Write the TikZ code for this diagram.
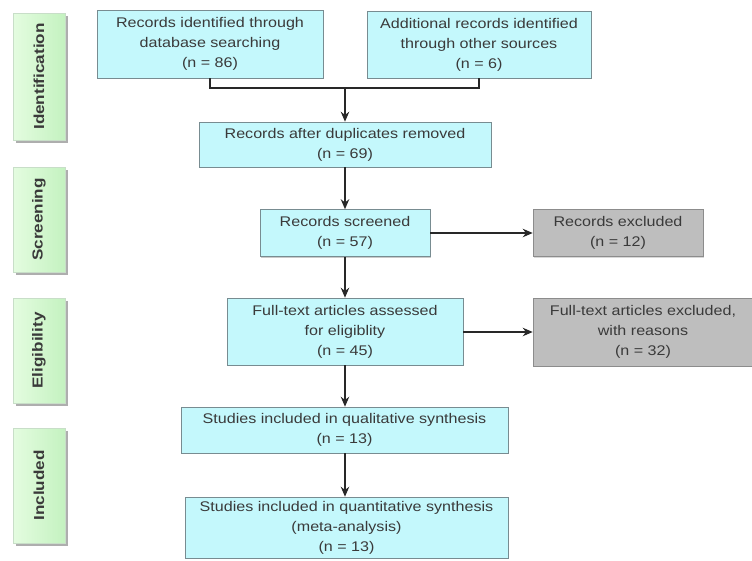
\documentclass[tikz,border=0pt]{standalone}
\usepackage{fontspec}
\setmainfont{Liberation Sans}[FakeStretch=1.15]
\newfontfamily\labfont{Liberation Sans}[FakeStretch=1.18]
\usetikzlibrary{arrows.meta,shadows}
\definecolor{cyanfill}{RGB}{196,248,252}
\definecolor{cyanline}{RGB}{120,140,145}
\definecolor{grayfill}{RGB}{190,190,190}
\definecolor{grayline}{RGB}{140,140,140}
\definecolor{greenL}{RGB}{228,252,224}
\definecolor{greenR}{RGB}{196,242,192}
\definecolor{greenline}{RGB}{200,222,200}
\definecolor{txt}{RGB}{58,58,58}
\definecolor{conn}{RGB}{40,40,40}
\tikzset{
  base/.style={rectangle, inner sep=0pt, align=center, text=txt,
    font=\fontsize{14}{20}\selectfont},
  cbox/.style={base, fill=cyanfill, draw=cyanline, line width=0.6pt,
    drop shadow={shadow xshift=1pt, shadow yshift=-1pt, fill=black!35, opacity=0.6}},
  gbox/.style={base, fill=grayfill, draw=grayline, line width=0.6pt,
    drop shadow={shadow xshift=1pt, shadow yshift=-1pt, fill=black!30, opacity=0.5}},
  side/.style={rectangle, inner sep=0pt, draw=greenline, line width=0.5pt,
    left color=greenL, right color=greenR, minimum width=52pt,
    drop shadow={shadow xshift=2.5pt, shadow yshift=-3pt, fill=black!45, opacity=0.7}},
  sidetext/.style={rotate=90, text=txt, font=\labfont\bfseries\fontsize{14.5}{16}\selectfont},
  conline/.style={draw=conn, line width=1.2pt},
  arr/.style={conline, -{Stealth[length=10pt,width=8.5pt]}}
}
\begin{document}
\begin{tikzpicture}[x=1pt,y=-1pt]
\useasboundingbox (0,0) rectangle (752,560);
% side labels
\node[side, minimum height=127pt] (s1) at (39,76.5) {};
\node[sidetext] (t1) at (s1.center) {Identification};
\node[side, minimum height=105pt] (s2) at (39,219.5) {};
\node[sidetext] (t2) at (s2.center) {Screening};
\node[side, minimum height=105pt] (s3) at (39,350.5) {};
\node[sidetext] (t3) at (s3.center) {Eligibility};
\node[side, minimum height=115pt] (s4) at (39,485.5) {};
\node[sidetext] (t4) at (s4.center) {Included};
% boxes
\node[cbox, minimum width=226pt, minimum height=68pt] (b1) at (210,44)
  {Records identified through\\database searching\\(n = 86)};
\node[cbox, minimum width=224pt, minimum height=67pt] (b2) at (479,44.5)
  {Additional records identified\\through other sources\\(n = 6)};
\node[cbox, minimum width=292pt, minimum height=45pt] (b3) at (345,144.5)
  {Records after duplicates removed\\(n = 69)};
\node[cbox, minimum width=170pt, minimum height=47pt] (b4) at (345,233)
  {Records screened\\(n = 57)};
\node[gbox, minimum width=170pt, minimum height=47pt] (e1) at (618,233)
  {Records excluded\\(n = 12)};
\node[cbox, minimum width=236pt, minimum height=67pt] (b5) at (345,331.5)
  {Full-text articles assessed\\for eligiblity\\(n = 45)};
\node[gbox, minimum width=220pt, minimum height=68pt] (e2) at (643,332)
  {Full-text articles excluded,\\with reasons\\(n = 32)};
\node[cbox, minimum width=327pt, minimum height=46pt] (b6) at (344.5,430)
  {Studies included in qualitative synthesis\\(n = 13)};
\node[cbox, minimum width=323pt, minimum height=61pt] (b7) at (346.5,527.5)
  {Studies included in quantitative synthesis\\(meta-analysis)\\(n = 13)};
% connectors
\coordinate (jm) at (345,88);
\draw[conline] (b1.south) -- (b1.south |- jm) -- (b2.south |- jm) -- (b2.south);
\draw[arr] (jm) -- (b3.north);
\draw[arr] (b3.south) -- (b4.north);
\draw[arr] (b4.east) -- (b4.east -| e1.west);
\draw[arr] (b4.south) -- (b5.north);
\draw[arr] (b5.east |- e2.west) -- (e2.west);
\draw[arr] (b5.south) -- (b5.south |- b6.north);
\draw[arr] (b5.south |- b6.south) -- (b5.south |- b7.north);
\end{tikzpicture}
\end{document}
